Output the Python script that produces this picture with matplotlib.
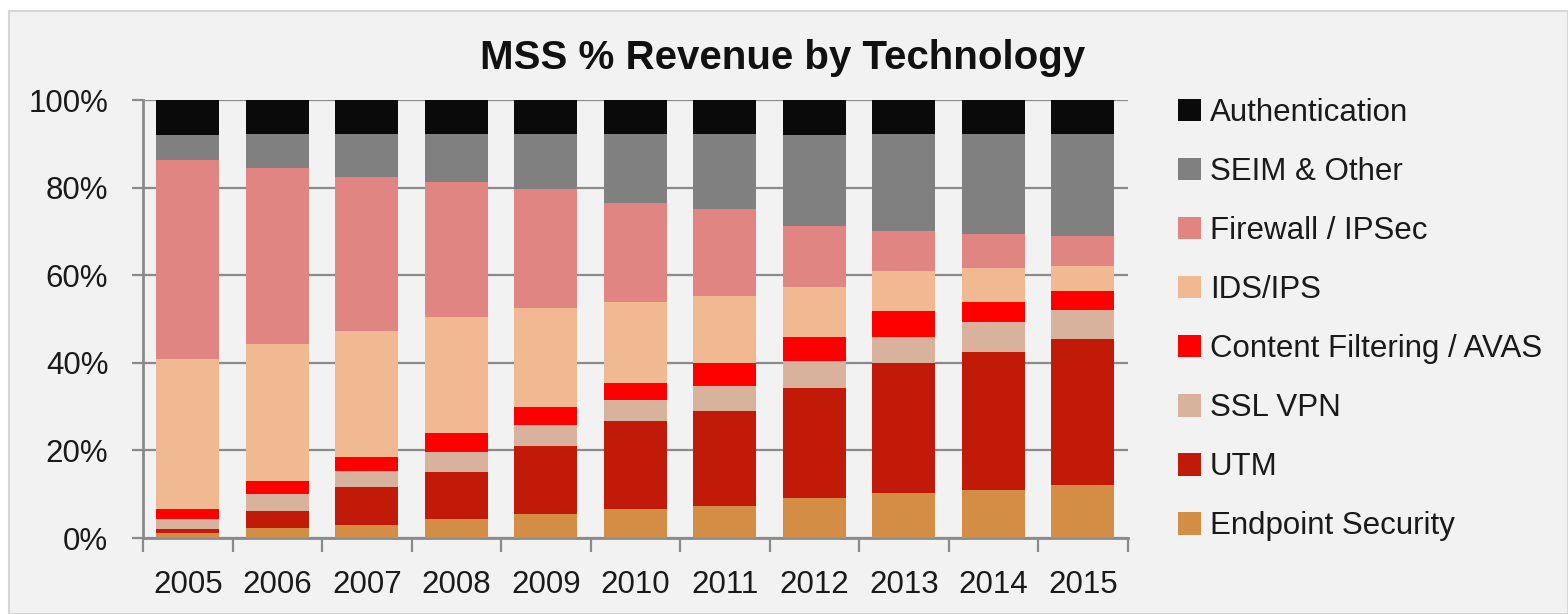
import numpy as np
import matplotlib
matplotlib.use("Agg")
from matplotlib import pyplot as plt
from matplotlib.patches import Rectangle, Patch
from matplotlib.ticker import FixedLocator, PercentFormatter

# data (% of revenue, bottom to top of each bar)
years = ["2005", "2006", "2007", "2008", "2009", "2010", "2011", "2012", "2013", "2014", "2015"]

endpoint = [1.1, 2.2, 3.0, 4.3, 5.5, 6.6, 7.4, 9.2, 10.2, 11.0, 12.1]
utm = [1.0, 4.0, 8.7, 10.7, 15.5, 20.1, 21.6, 25.0, 29.7, 31.4, 33.3]
ssl_vpn = [2.2, 3.8, 3.6, 4.6, 4.7, 4.7, 5.7, 6.1, 6.1, 7.0, 6.7]
content = [2.3, 2.9, 3.1, 4.3, 4.3, 4.1, 5.2, 5.5, 5.8, 4.4, 4.4]
ids_ips = [34.2, 31.4, 28.9, 26.5, 22.6, 18.4, 15.4, 11.6, 9.1, 7.8, 5.7]
firewall = [45.6, 40.1, 35.1, 30.8, 27.1, 22.6, 19.8, 13.9, 9.3, 7.9, 6.7]
seim = [5.7, 7.9, 9.9, 11.1, 12.6, 15.8, 17.2, 20.7, 22.0, 22.8, 23.4]
auth = [7.9, 7.7, 7.7, 7.7, 7.7, 7.7, 7.7, 8.0, 8.0, 7.7, 7.7]

series = [
    ("Endpoint Security", endpoint, "#d38d44"),
    ("UTM", utm, "#c21a08"),
    ("SSL VPN", ssl_vpn, "#d8b29c"),
    ("Content Filtering / AVAS", content, "#ff0000"),
    ("IDS/IPS", ids_ips, "#f0b991"),
    ("Firewall / IPSec", firewall, "#e08582"),
    ("SEIM & Other", seim, "#808080"),
    ("Authentication", auth, "#0a0a0a"),
]

W, H = 1568, 614
FONT = ["Liberation Sans", "DejaVu Sans"]
bg = "#f2f2f2"
axis_gray = "#8a8a8a"

fig = plt.figure(figsize=(W / 100, H / 100), dpi=100)
fig.patch.set_facecolor("white")
# light grey panel with thin border, like the slide background
fig.patches.append(Rectangle((9 / W, 0), 1 - 9 / W, 1 - 11 / H, transform=fig.transFigure,
                             facecolor=bg, edgecolor="#d6d6d6", linewidth=1.5, zorder=-10))

ax = fig.add_axes([143 / W, 1 - 538 / H, (1127.5 - 143) / W, (538 - 100) / H])
ax.set_facecolor(bg)

x = np.arange(len(years))
bottom = np.zeros(len(years))
for name, vals, col in series:
    vals = np.array(vals)
    ax.bar(x, vals, width=0.70, bottom=bottom, color=col, edgecolor="none", zorder=3)
    bottom += vals

ax.set_xlim(-0.5, len(years) - 0.5)
ax.set_ylim(0, 100)

ax.yaxis.set_major_locator(FixedLocator([0, 20, 40, 60, 80, 100]))
ax.yaxis.set_major_formatter(PercentFormatter(decimals=0))
ax.grid(axis="y", color=axis_gray, linewidth=1.6, zorder=0)
ax.set_axisbelow(True)

ax.set_xticks(x)
ax.set_xticklabels(years)
ax.xaxis.set_minor_locator(FixedLocator(np.arange(len(years) + 1) - 0.5))

ax.tick_params(axis="x", which="major", length=0, pad=23)
ax.tick_params(axis="x", which="minor", length=10, width=1.6, color=axis_gray, direction="out")
ax.tick_params(axis="y", length=8, width=1.6, color=axis_gray, pad=17)
for lab in ax.get_xticklabels() + ax.get_yticklabels():
    lab.set_fontfamily(FONT)
    lab.set_fontsize(22.5)
    lab.set_color("#1a1a1a")

for s in ["top", "right"]:
    ax.spines[s].set_visible(False)
for s in ["left", "bottom"]:
    ax.spines[s].set_color(axis_gray)
    ax.spines[s].set_linewidth(2)

fig.text(783 / W, 1 - 58 / H, "MSS % Revenue by Technology", ha="center", va="center",
         fontsize=29, fontweight="bold", family=FONT, color="#111111")

handles = [Patch(facecolor=col, edgecolor="none") for name, vals, col in series][::-1]
labels = [name for name, vals, col in series][::-1]
leg = fig.legend(handles, labels, loc="upper left", bbox_to_anchor=(1178 / W, 1 - 98 / H),
                 frameon=False, prop={"family": FONT, "size": 22.5},
                 handlelength=0.72, handleheight=0.72, handletextpad=0.3,
                 labelspacing=0.93, borderpad=0, borderaxespad=0)
for t in leg.get_texts():
    t.set_color("#1a1a1a")

fig.savefig("out.png", dpi=100, facecolor=fig.get_facecolor())
